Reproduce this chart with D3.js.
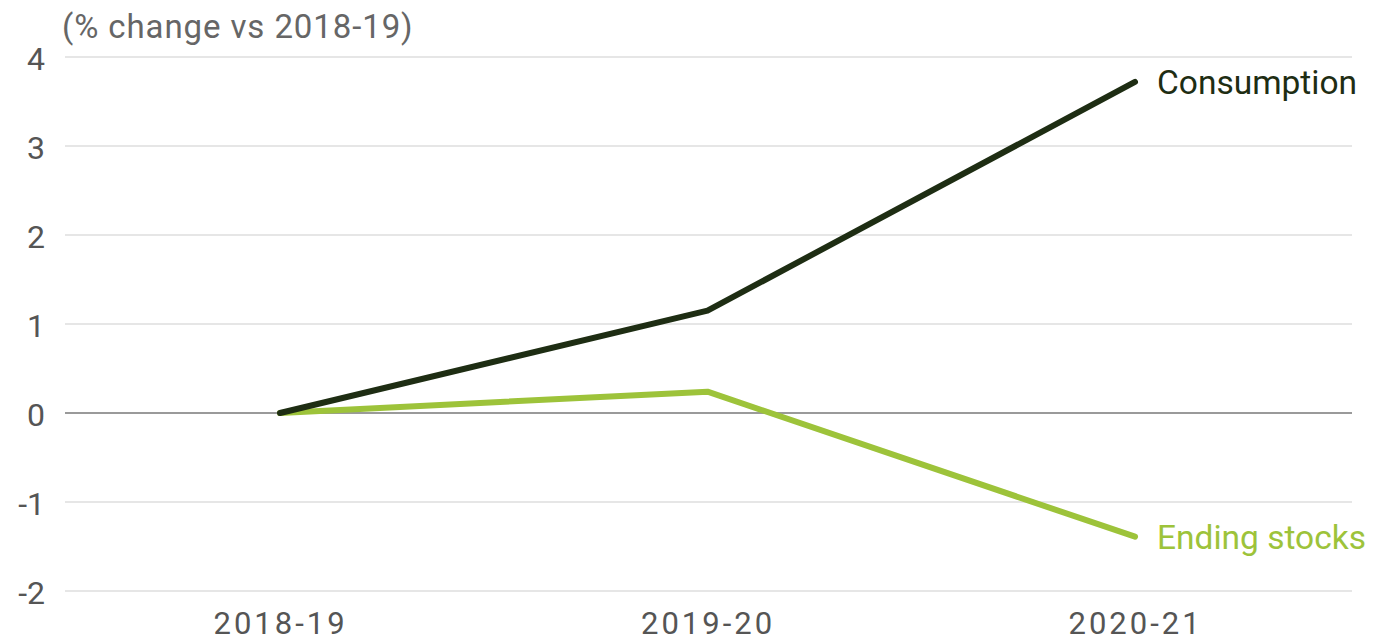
<!DOCTYPE html>
<html>
<head>
<meta charset="utf-8">
<script src="https://cdn.jsdelivr.net/npm/d3@7"></script>
<style>
  html, body { margin: 0; padding: 0; background: #fff; }
  svg { display: block; }
  text { font-family: Roboto, "Noto Sans", sans-serif; }
</style>
</head>
<body>
<svg id="chart" width="1380" height="643"></svg>
<script>
// Marketing years on the x axis
const years = ["2018-19", "2019-20", "2020-21"];
// % change vs 2018-19
const consumption = [0, 1.15, 3.72];
const endingStocks = [0, 0.24, -1.39];
const yTicks = [-2, -1, 0, 1, 2, 3, 4];
const unitLabel = "(% change vs 2018-19)";

const series = [
  { name: "Consumption", values: consumption, color: "#1e2d13" },
  { name: "Ending stocks", values: endingStocks, color: "#9dc33a" }
];

const svg = d3.select("#chart");
const left = 65, right = 1352;

const x = d3.scalePoint().domain(years).range([280, 1135]);
const y = d3.scaleLinear().domain([-2, 4]).range([591, 57]);

// horizontal gridlines, zero line darker
svg.append("g")
  .selectAll("line")
  .data(yTicks)
  .join("line")
  .attr("x1", left).attr("x2", right)
  .attr("y1", d => y(d)).attr("y2", d => y(d))
  .attr("stroke", d => d === 0 ? "#9a9a9a" : "#e6e6e6")
  .attr("stroke-width", 2);

// y axis tick labels (plain hyphen for negatives)
const yAxis = d3.axisLeft(y).tickValues(yTicks).tickSize(0).tickPadding(0)
  .tickFormat(d => String(d));
svg.append("g")
  .attr("transform", "translate(45,0)")
  .call(yAxis)
  .call(g => g.select(".domain").remove())
  .call(g => g.selectAll("text")
    .attr("font-size", 32)
    .attr("fill", "#555")
    .attr("font-family", "Roboto, sans-serif")
    .attr("dy", "0.4em"));

// x axis labels
const xAxis = d3.axisBottom(x).tickSize(0).tickPadding(0);
svg.append("g")
  .attr("transform", "translate(0,634)")
  .call(xAxis)
  .call(g => g.select(".domain").remove())
  .call(g => g.selectAll("text")
    .attr("font-size", 31)
    .attr("letter-spacing", "3px")
    .attr("fill", "#555")
    .attr("font-family", "Roboto, sans-serif")
    .attr("dy", "0em"));

// unit label
svg.append("text")
  .attr("x", 62).attr("y", 38)
  .attr("font-size", 33)
  .attr("letter-spacing", "0.9px")
  .attr("fill", "#666")
  .text(unitLabel);

// lines
const line = d3.line()
  .x((d, i) => x(years[i]))
  .y(d => y(d));

svg.append("g")
  .selectAll("path")
  .data(series.slice().reverse())
  .join("path")
  .attr("d", d => line(d.values))
  .attr("fill", "none")
  .attr("stroke", d => d.color)
  .attr("stroke-width", 6)
  .attr("stroke-linecap", "round")
  .attr("stroke-linejoin", "round");

// end labels
svg.append("g")
  .selectAll("text")
  .data(series)
  .join("text")
  .attr("x", x(years[years.length - 1]) + 22)
  .attr("y", d => y(d.values[d.values.length - 1]))
  .attr("dy", "0.36em")
  .attr("font-size", 33.5)
  .attr("fill", d => d.color)
  .text(d => d.name);
</script>
</body>
</html>
